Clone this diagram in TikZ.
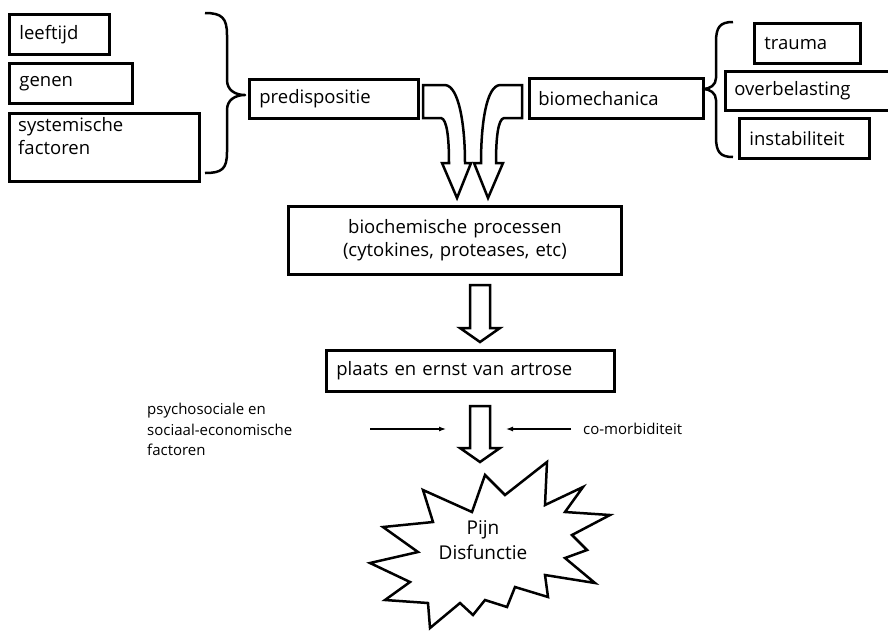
\documentclass[tikz,border=0pt]{standalone}
\usepackage{fontspec}
\setmainfont{Open Sans}
\usetikzlibrary{arrows.meta}
\newcommand\boxfont{\fontsize{18.5}{23}\selectfont}
\newcommand\sidefont{\fontsize{15}{20.5}\selectfont}
\newcommand\starfont{\fontsize{19}{25}\selectfont}
\begin{document}
\begin{tikzpicture}[x=1pt,y=-1pt,
  box/.style={draw, line width=2.8pt, rectangle, inner ysep=0pt, anchor=north west, font=\boxfont, align=left},
  brace/.style={draw, line width=2.5pt, line join=round},
  blockarrow/.style={draw, line width=2.5pt, line join=miter, fill=white},
  thin/.style={draw, line width=1.2pt, -{Latex[length=7pt,width=5pt]}},
  side/.style={font=\sidefont, inner sep=0pt, align=left}]
\useasboundingbox (0,0) rectangle (888,630);

% left group
\node[box, minimum height=40, text width=80, inner xsep=10] (leeftijd) at (8,13) {leeftijd};
\node[box, minimum height=40, text width=103, inner xsep=10] (genen) at (8,62) {genen};
\node[box, minimum height=68, minimum width=190] (syst) at (8,112) {};
\node[font=\boxfont, align=left, inner sep=0pt, anchor=north west] (systT) at (18,117) {systemische\\factoren};
\draw[brace] (205,13) .. controls (222,13) and (227,18) .. (227,35) -- (227,80)
  .. controls (227,90) and (235,95) .. (245,95)
  .. controls (235,95) and (227,100) .. (227,110) -- (227,152)
  .. controls (227,169) and (222,173) .. (205,173);
\node[box, minimum height=39, text width=149, inner xsep=10] (pred) at (248,78) {predispositie};

% right group
\node[box, minimum height=40, text width=156, inner xsep=9] (biom) at (528,77) {biomechanica};
\draw[brace] (733,22) .. controls (720,22) and (716,27) .. (716,42) -- (716,78)
  .. controls (716,85) and (710,89) .. (703,89)
  .. controls (710,89) and (716,93) .. (716,100) -- (716,137)
  .. controls (716,152) and (720,157) .. (733,157);
\node[box, minimum height=40, text width=86, inner xsep=10] (trauma) at (753,22) {trauma};
\node[box, minimum height=39, text width=153, inner xsep=9] (overb) at (724,70) {overbelasting};
\node[box, minimum height=40, text width=110, inner xsep=10] (instab) at (738,117) {instabiliteit};

% curved block arrows
\draw[blockarrow] (423,85) -- (445,85) .. controls (459,86) and (465,125) .. (465,163)
  -- (471,163) -- (457,198) -- (442,163) -- (449,163)
  .. controls (449,138) and (447,119) .. (441,118) -- (423,118) -- cycle;
\draw[blockarrow] (522,85) -- (500,85) .. controls (486,86) and (481,125) .. (481,163)
  -- (474,163) -- (488,198) -- (503,163) -- (496,163)
  .. controls (496,138) and (498,119) .. (504,118) -- (522,118) -- cycle;

% middle
\node[box, minimum height=68, text width=333, inner xsep=0, align=center] (bioch) at (287,205)
  {biochemische processen\\(cytokines, proteases, etc)};
\draw[blockarrow] (470,285) -- (490,285) -- (490,328) -- (500,328) -- (480,342)
  -- (460,328) -- (470,328) -- cycle;
\node[box, minimum height=41, text width=268, inner xsep=10] (plaats) at (325,349) {plaats en ernst van artrose};
\draw[blockarrow] (470,406) -- (490,406) -- (490,448) -- (500,448) -- (480,462)
  -- (460,448) -- (470,448) -- cycle;

% side factors
\node[side, anchor=north west] (psych) at (147,403) {psychosociale en\\sociaal-economische\\factoren};
\node[side, anchor=west] (comorb) at (583,429) {co-morbiditeit};
\coordinate (la) at (370,429);
\coordinate (lb) at (446,429);
\coordinate (ra) at (571,429);
\coordinate (rb) at (506,429);
\draw[thin] (la) -- (lb);
\draw[thin] (ra) -- (rb);

% starburst
\draw[line width=2.5pt, line join=miter, miter limit=20, fill=white]
  (485,475) -- (505,495) -- (547,462) -- (545,505) -- (583,487) -- (565,512)
  -- (610,515) -- (572,535) -- (587,550) -- (565,558) -- (595,583) -- (545,575)
  -- (548,597) -- (515,587) -- (507,607) -- (485,600) -- (473,615) -- (460,603)
  -- (430,628) -- (428,603) -- (385,600) -- (410,582) -- (370,563) -- (418,552)
  -- (383,527) -- (433,522) -- (423,490) -- (472,512) -- cycle;
\node[font=\starfont, align=center, inner sep=0pt] (pain) at (483,540) {Pijn\\Disfunctie};
\end{tikzpicture}
\end{document}
